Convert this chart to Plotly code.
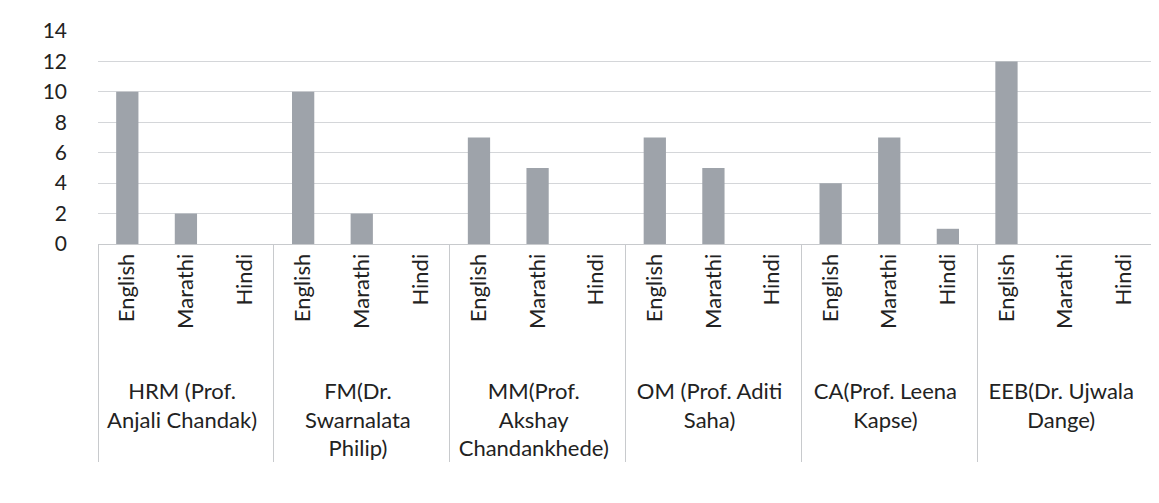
import plotly.graph_objects as go

groups = [
    "<br>HRM (Prof.<br>Anjali Chandak)",
    "<br>FM(Dr.<br>Swarnalata<br>Philip)",
    "<br>MM(Prof.<br>Akshay<br>Chandankhede)",
    "<br>OM (Prof. Aditi<br>Saha)",
    "<br>CA(Prof. Leena<br>Kapse)",
    "<br>EEB(Dr. Ujwala<br>Dange)",
]
languages = ["English", "Marathi", "Hindi"]
english = [10, 10, 7, 7, 4, 12]
marathi = [2, 2, 5, 5, 7, 0]
hindi = [0, 0, 0, 0, 1, 0]

outer, inner, vals = [], [], []
for i, g in enumerate(groups):
    for lang, series in zip(languages, [english, marathi, hindi]):
        outer.append(g)
        inner.append(lang)
        vals.append(series[i])

fig = go.Figure(
    go.Bar(
        x=[outer, inner],
        y=vals,
        marker=dict(color="#9ea3aa", line=dict(width=0)),
    )
)

FONT = "Lato, 'Open Sans', sans-serif"
fig.update_layout(
    width=1159,
    height=503,
    margin=dict(l=90, r=14, t=23, b=267),
    paper_bgcolor="white",
    plot_bgcolor="white",
    bargap=0.62,
    showlegend=False,
    font=dict(family=FONT, size=21, color="#222222"),
)
fig.update_yaxes(
    range=[0, 14],
    dtick=2,
    showgrid=True,
    gridcolor="#d4d6d9",
    gridwidth=1,
    zeroline=False,
    tickfont=dict(size=21, color="#222222"),
    ticks="",
    ticklabelstandoff=30,
    automargin=False,
)
fig.update_xaxes(
    type="multicategory",
    tickangle=-90,
    showline=True,
    linecolor="#c8cacd",
    showdividers=True,
    dividercolor="#c8cacd",
    dividerwidth=1,
    tickfont=dict(size=22, color="#222222"),
    automargin=False,
)

fig.write_html("out.html")
